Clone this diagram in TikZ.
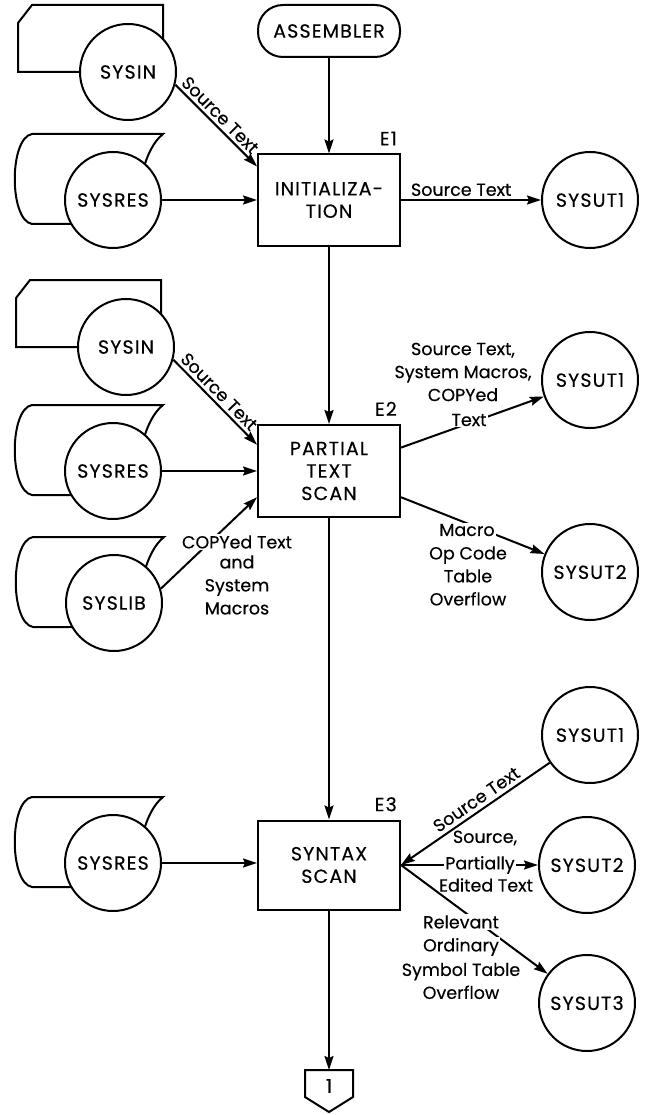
\documentclass[tikz,border=0pt]{standalone}
\usepackage{fontspec}
\setmainfont{Poppins}[FakeBold=0.35]
\newfontfamily\capsfont{Poppins}[LetterSpace=6,FakeBold=0.35]
\usetikzlibrary{arrows.meta,calc}
\begin{document}
\begin{tikzpicture}[x=1pt,y=-1pt,
  every node/.style={font=\fontsize{17.5}{23}\selectfont},
  caps/.style={font=\capsfont\fontsize{19}{22.5}\selectfont},
  ln/.style={line width=2pt},
  io/.style={circle, draw, ln, fill=white, minimum size=96pt, inner sep=0pt, caps},
  proc/.style={rectangle, draw, ln, minimum width=142pt, minimum height=91pt, align=center, inner sep=2pt, caps},
  term/.style={rectangle, draw, ln, rounded corners=25pt, minimum width=142pt, minimum height=52pt, caps},
  arr/.style={ln, -{Stealth[length=14pt,width=9pt,inset=2pt]}},
  lbl/.style={align=center, inner sep=1pt},
  wlbl/.style={lbl, fill=white},
  tag/.style={anchor=south east, inner sep=0pt, xshift=-4pt, yshift=8pt, caps},
  cardback/.pic={
    \draw[ln] (-40,0) -- (-110,0) -- (-110,-49) -- (-96,-67) -- (35,-67) -- (35,-25);
  },
  diskback/.pic={
    \draw[ln] (-40,24) -- (-81,24) .. controls (-104,20) and (-104,-62) .. (-81,-66)
      -- (50,-66) .. controls (40,-58) and (34,-44) .. (30,-30);
  }]
\useasboundingbox (0,0) rectangle (649,1115);

% media symbols behind the data-set circles
\pic at (128,72) {cardback};
\pic at (113,200) {diskback};
\pic at (126,347) {cardback};
\pic at (113,471) {diskback};
\pic at (114,603) {diskback};
\pic at (113,863) {diskback};

% processing blocks
\node[term] (asm) at (329,31) {ASSEMBLER};
\node[proc] (e1) at (329,200) {INITIALIZA-\\TION};
\node[proc, minimum height=92pt] (e2) at (329,471) {PARTIAL\\TEXT\\SCAN};
\node[proc, minimum height=89pt] (e3) at (329,865) {SYNTAX\\SCAN};
\node[tag] at (e1.north east) {E1};
\node[tag] at (e2.north east) {E2};
\node[tag] at (e3.north east) {E3};

% data sets
\node[io] (sysin1) at (128,72) {SYSIN};
\node[io] (sysres1) at (113,200) {SYSRES};
\node[io] (sysut1a) at (590,200) {SYSUT1};
\node[io] (sysin2) at (126,347) {SYSIN};
\node[io] (sysres2) at (113,471) {SYSRES};
\node[io] (syslib) at (114,603) {SYSLIB};
\node[io] (sysut1b) at (590,380) {SYSUT1};
\node[io] (sysut2a) at (590,572) {SYSUT2};
\node[io] (sysut1c) at (590,735) {SYSUT1};
\node[io] (sysres3) at (113,863) {SYSRES};
\node[io] (sysut2b) at (587,865) {SYSUT2};
\node[io] (sysut3) at (587,1003) {SYSUT3};

% off-page connector
\coordinate (off) at (329,1070);
\draw[ln] ($(off)+(-24,0)$) -- ($(off)+(-24,27)$) -- ($(off)+(0,42)$)
  -- ($(off)+(24,27)$) -- ($(off)+(24,0)$) -- cycle;
\node[caps] (offnum) at (329,1086) {1};

% label of the middle SYSUT2 line (connector runs through its gaps)
\node[lbl] (src) at (485,838) {Source,};
\node[lbl] (pe) at (480,865) {Partially};
\node[lbl] (edt) at (486,885) {Edited Text};

% flow of control
\draw[arr] (asm) -- (e1);
\draw[arr] (e1) -- (e2);
\draw[arr] (e2) -- (e3);
\draw[arr] (e3) -- (off);

% data flow into and out of E1
\draw[arr] (sysin1.-15) -- (e1.155) node[pos=0.46, sloped, above, inner sep=3pt] {Source Text};
\draw[arr] (sysres1) -- (e1);
\draw[arr] (e1) -- (sysut1a) node[pos=0.43, above, inner sep=3pt] {Source Text};

% data flow into and out of E2
\draw[arr] (sysin2.-15) -- (e2.160) node[pos=0.46, sloped, above, inner sep=3pt] {Source Text};
\draw[arr] (sysres2) -- (e2);
\draw[arr] (syslib.17) -- (e2.200);
\draw[arr] (e2.18) -- (sysut1b);
\draw[arr] (e2.-20) -- (sysut2a);

% data flow into and out of E3
\draw[arr] (sysut1c) -- (e3.east) node[pos=0.45, sloped, above, inner sep=4pt] {Source Text};
\draw[arr] (sysres3) -- (sysres3 -| e3.west);
\draw[ln] (e3.east) -- (pe.west);
\draw[arr] (pe.east) -- (sysut2b);
\draw[arr] (e3.east) -- (sysut3);

% multi-line labels, white-backed where a connector passes
\node[wlbl] at (237,542) {COPYed Text};
\node[lbl] at (237,585) {and\\System\\Macros};
\node[lbl] at (463,372) {Source Text,\\System Macros,\\COPYed};
\node[wlbl] at (469,420) {Text};
\node[wlbl] at (467,530) {Macro};
\node[lbl] at (468,576) {Op Code\\Table\\Overflow};
\node[wlbl] at (461,922) {Relevant};
\node[wlbl] at (461,947) {Ordinary};
\node[lbl] at (461,981) {Symbol Table\\Overflow};
\end{tikzpicture}
\end{document}
